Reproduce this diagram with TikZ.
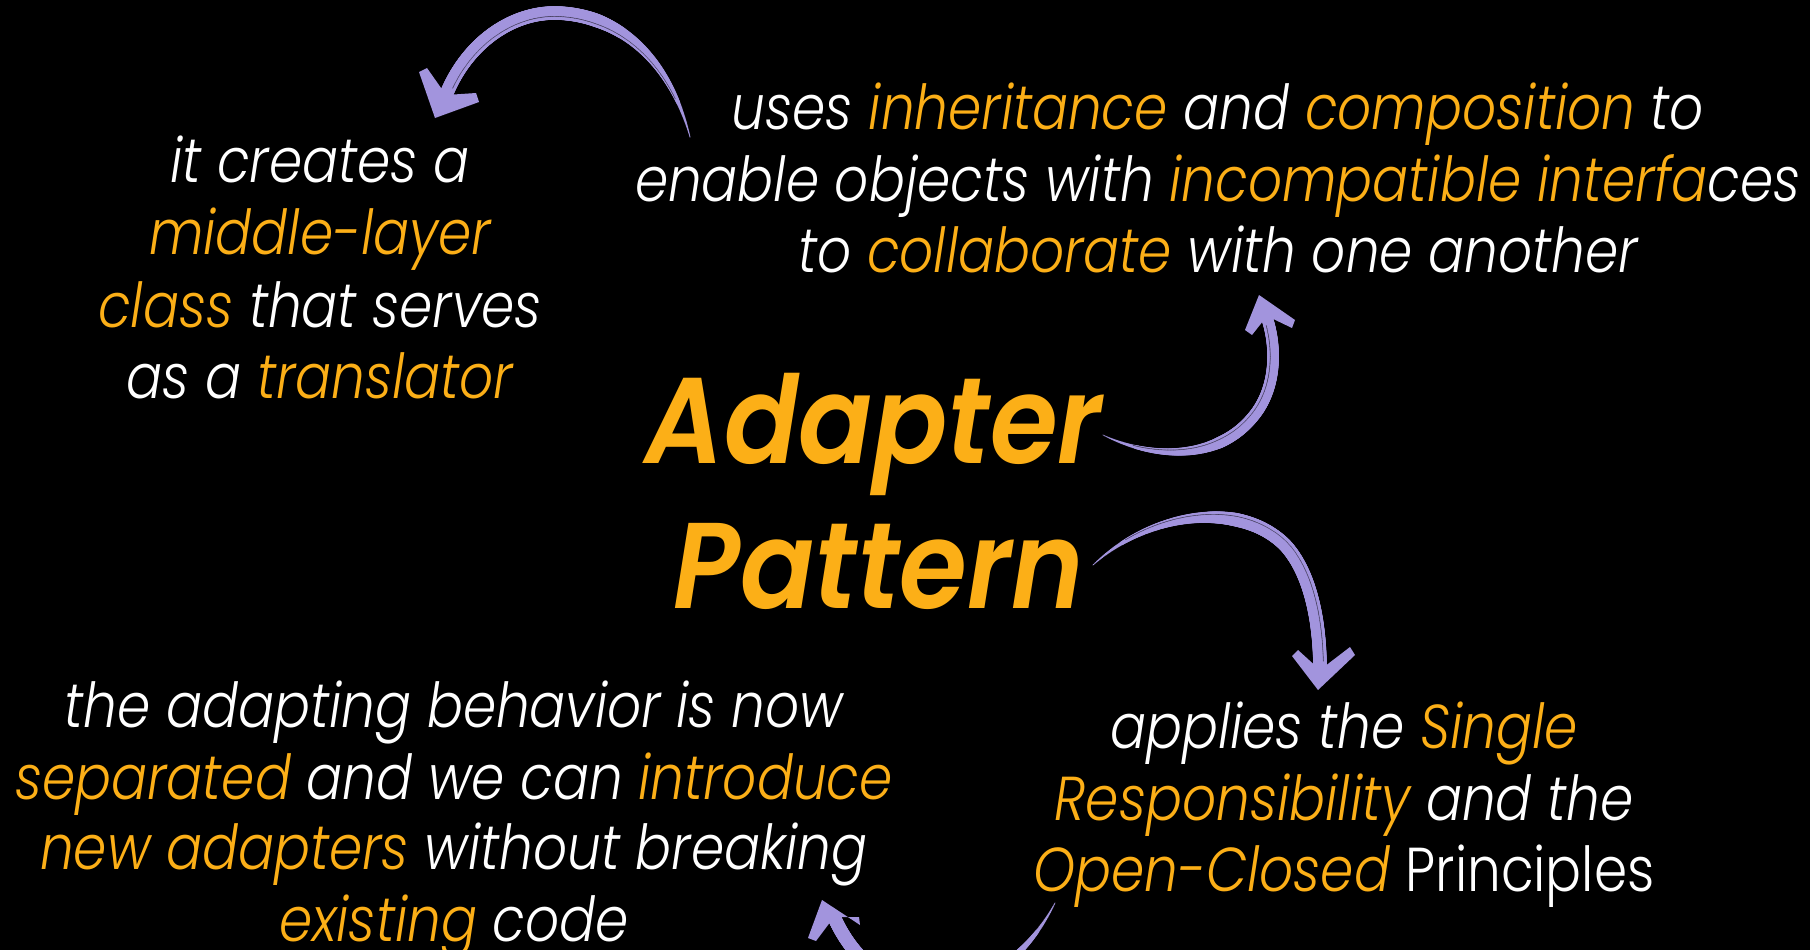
\documentclass[tikz,border=0pt]{standalone}
\usepackage{fontspec}
\usetikzlibrary{decorations.markings}

% ---- fonts ----
\IfFontExistsTF{Poppins Light Italic}{%
  \newfontfamily\bodyit{Poppins Light Italic}[FakeStretch=0.86]%
}{%
  \newfontfamily\bodyit{Poppins}[FakeStretch=0.86,FakeSlant=0.2]%
}
\IfFontExistsTF{Poppins Light}{%
  \newfontfamily\bodyup{Poppins Light}[FakeStretch=0.86]%
}{%
  \newfontfamily\bodyup{Poppins}[FakeStretch=0.86]%
}
\IfFontExistsTF{Poppins SemiBold Italic}{%
  \newfontfamily\titlefont{Poppins SemiBold Italic}[FakeStretch=0.9]%
}{%
  \IfFontExistsTF{Poppins Bold Italic}{%
    \newfontfamily\titlefont{Poppins Bold Italic}[FakeStretch=0.9]%
  }{%
    \newfontfamily\titlefont{Poppins}[FakeStretch=0.9,FakeSlant=0.2,FakeBold=2]%
  }%
}

% ---- colours ----
\definecolor{hl}{RGB}{252,175,23}
\definecolor{brushc}{RGB}{162,148,221}
\newcommand\hi[1]{\textcolor{hl}{#1}}

\tikzset{
  txt/.style={anchor=base, inner sep=0pt, text=white,
    font=\bodyit\fontsize{62}{72}\selectfont},
  ttl/.style={anchor=base, inner sep=0pt, text=hl,
    font=\titlefont\fontsize{122}{145}\selectfont},
  % tapered brush stroke: #1 = max half width, #2 = fraction of length over which it swells
  brush/.style 2 args={
    decoration={markings,
      mark=between positions 0 and 1 step 0.8pt with {
        \pgfmathsetmacro\brt{\pgfkeysvalueof{/pgf/decoration/mark info/distance from start}/\pgfdecoratedpathlength}
        \pgfmathsetmacro\brr{#1*(0.08+0.92*min(1,\brt/#2))}
        \fill[brushc] (0pt,0pt) circle[radius=\brr pt];
      }},
    decorate},
  % dark bristle streak running along a brush stroke
  streak/.style 2 args={
    decoration={markings,
      mark=between positions 0.12 and 0.97 step 0.6pt with {
        \pgfmathsetmacro\brt{\pgfkeysvalueof{/pgf/decoration/mark info/distance from start}/\pgfdecoratedpathlength}
        \pgfmathsetmacro\bro{#1*0.5*(0.08+0.92*min(1,\brt/#2))}
        \fill[black!75!brushc] (0pt,\bro pt) circle[radius=0.35pt];
      }},
    decorate},
  head/.style={fill=brushc},
}

\begin{document}
\begin{tikzpicture}[x=1pt,y=-1pt]
\useasboundingbox (0,0) rectangle (1810,950);
\fill[black] (0,0) rectangle (1810,950);
\begin{scope}
\clip (0,0) rectangle (1810,950);

% ---- title ----
\node[ttl] (t1) at (874,463) {Adapter};
\node[ttl] (t2) at (879,608) {Pattern};

% ---- upper left ----
\node[txt] (ul1) at (320,182) {it creates a};
\node[txt] (ul2) at (320,254) {\hi{middle-layer}};
\node[txt] (ul3) at (320,327) {\hi{class} that serves};
\node[txt] (ul4) at (320,398) {as a \hi{translator}};

% ---- upper right ----
\node[txt] (ur1) at (1218,129) {uses \hi{inheritance} and \hi{composition} to};
\node[txt] (ur2) at (1218,201) {enable objects with \hi{incompatible interfa}ces};
\node[txt] (ur3) at (1218,272) {to \hi{collaborate} with one another};

% ---- lower right ----
\node[txt] (lr1) at (1344,748) {applies the \hi{Single}};
\node[txt] (lr2) at (1344,820) {\hi{Responsibility} and the};
\node[txt] (lr3) at (1344,891) {\hi{Open-Closed} {\bodyup Principles}};

% ---- lower left ----
\node[txt] (ll1) at (454,727) {the adapting behavior is now};
\node[txt] (ll2) at (454,799) {\hi{separated} and we can \hi{introduce}};
\node[txt] (ll3) at (454,869) {\hi{new adapters} without breaking};
\node[txt] (ll4) at (454,941) {\hi{existing} code};

% ---- brush arrows ----
% upper text -> upper left text
\coordinate (a1s) at (690,137);
\coordinate (a1m) at (557,13);
\coordinate (a1e) at (446,95);
\path[brush={6.8}{0.45}] (a1s) .. controls (670,60) and (620,15) .. (a1m)
                              .. controls (510,12) and (466,45) .. (a1e);
\path[streak={6.8}{0.45}] (a1s) .. controls (670,60) and (620,15) .. (a1m)
                              .. controls (510,12) and (466,45) .. (a1e);
\fill[head] (435,118) -- (419,72) -- (427,68) -- (446,95) -- (476,93) -- (479,102) -- cycle;

% title -> upper right text
\coordinate (a2s) at (1103,435);
\coordinate (a2m) at (1252,418);
\coordinate (a2e) at (1267,318);
\path[brush={5.8}{0.45}] (a2s) .. controls (1150,458) and (1215,462) .. (a2m)
                              .. controls (1278,388) and (1276,345) .. (a2e);
\path[streak={5.8}{0.45}] (a2s) .. controls (1150,458) and (1215,462) .. (a2m)
                              .. controls (1278,388) and (1276,345) .. (a2e);
\fill[head] (1259,295) -- (1245,330) -- (1252,335) -- (1267,316) -- (1292,328) -- (1295,320) -- cycle;

% title -> lower right text
\coordinate (a3s) at (1093,565);
\coordinate (a3m) at (1285,545);
\coordinate (a3e) at (1320,670);
\path[brush={6.8}{0.45}] (a3s) .. controls (1150,512) and (1240,500) .. (a3m)
                              .. controls (1310,572) and (1320,620) .. (a3e);
\path[streak={6.8}{0.45}] (a3s) .. controls (1150,512) and (1240,500) .. (a3m)
                              .. controls (1310,572) and (1320,620) .. (a3e);
\fill[head] (1318,690) -- (1292,656) -- (1298,650) -- (1320,670) -- (1350,647) -- (1355,655) -- cycle;

% lower right text -> lower left text (dipping below the edge)
\coordinate (a4s) at (1055,903);
\coordinate (a4e) at (834,917);
\path[brush={6.8}{0.5}] (a4s) .. controls (1000,1010) and (880,1020) .. (a4e);
\fill[head] (822,900) -- (808,938) -- (816,941) -- (834,917) -- (859,917) -- (860,925) -- cycle;

\end{scope}
\end{tikzpicture}
\end{document}
